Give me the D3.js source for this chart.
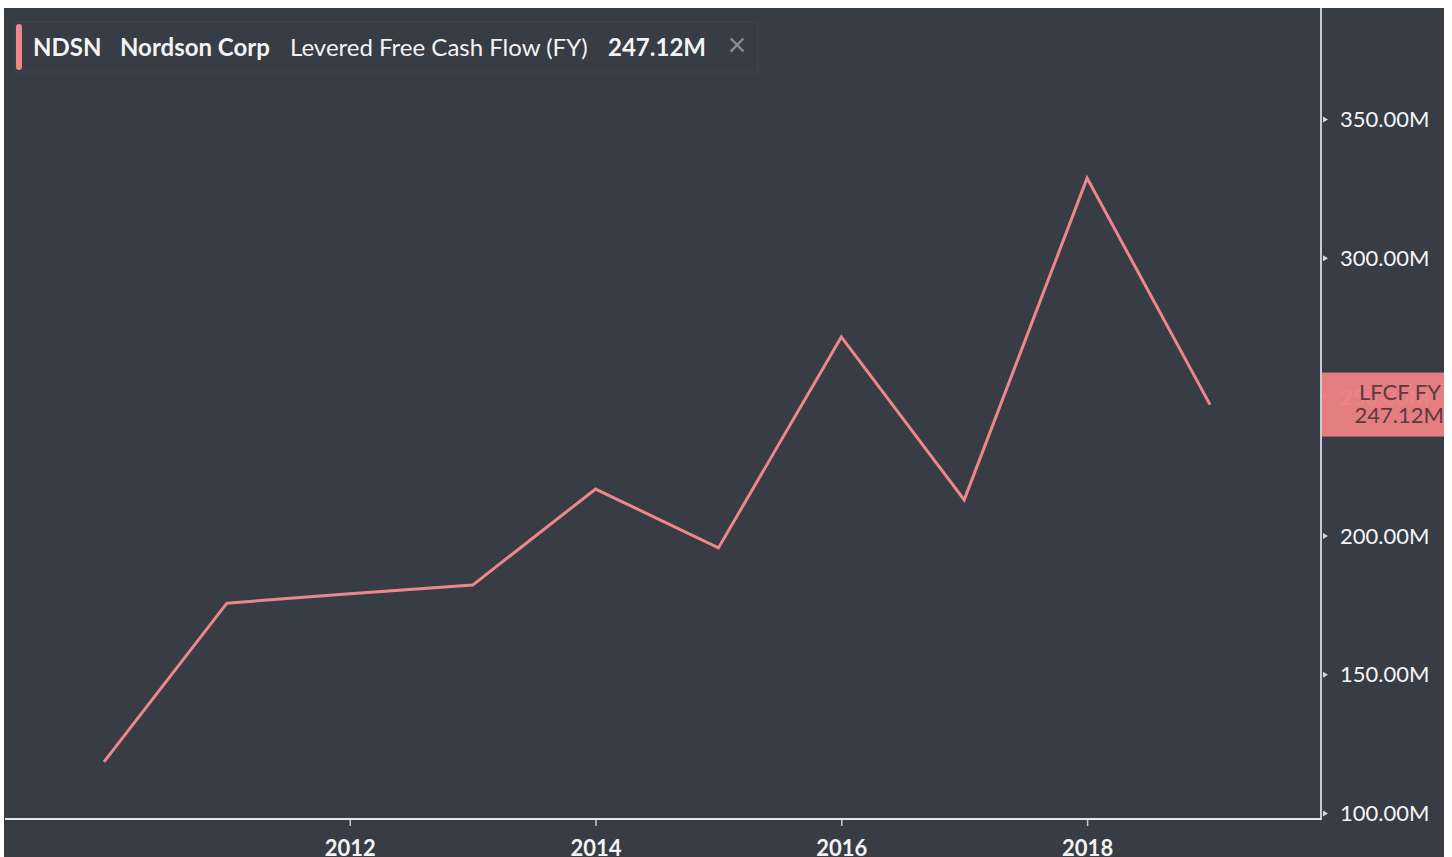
<!DOCTYPE html>
<html>
<head>
<meta charset="utf-8">
<script src="https://cdn.jsdelivr.net/npm/d3@7"></script>
<style>
  body { margin: 0; background: #fff; }
  text { font-family: Lato, "Open Sans", sans-serif; }
</style>
</head>
<body>
<svg id="chart" width="1452" height="857"></svg>
<script>
// data
var years = [2010, 2011, 2012, 2013, 2014, 2015, 2016, 2017, 2018, 2019];
var lfcf = [118.4, 175.6, 179.0, 182.1, 216.7, 195.5, 271.5, 212.8, 328.7, 247.12];
var yTicks = [100, 150, 200, 250, 300, 350];
var xTicks = [2012, 2014, 2016, 2018];
var legendParts = ["NDSN", "Nordson Corp", "Levered Free Cash Flow (FY)", "247.12M"];

var svg = d3.select("#chart");
var lineColor = "#ee878a";

//Panel background
svg.append("rect").attr("x", 4).attr("y", 8).attr("width", 1440).attr("height", 849)
    .attr("fill", "#383c45");

var xScale = d3.scaleLinear().domain([2010, 2019]).range([104, 1210]);
var yScale = d3.scaleLinear().domain([100, 350]).range([813, 119]);

var axisX = 1321, axisY = 819;

//Y axis on the right
var yAxis = d3.axisRight(yScale).tickValues(yTicks).tickSize(0).tickPadding(19)
    .tickFormat(function(d) { return d3.format(".2f")(d) + "M"; });
var gy = svg.append("g").attr("transform", "translate(" + axisX + ",0)").call(yAxis);
gy.select(".domain").remove();
gy.selectAll("text").attr("fill", "#f4f5f8").style("font-size", "22px")
    .attr("dy", "0.35em");
gy.selectAll(".tick").append("path").attr("d", "M2,-3L7,0L2,3Z").attr("fill", "#d8d8d8");
svg.append("line").attr("x1", axisX).attr("x2", axisX).attr("y1", 8).attr("y2", axisY + 1)
    .attr("stroke", "#c9cbd0").attr("stroke-width", 2);

//X axis
var xAxis = d3.axisBottom(xScale).tickValues(xTicks).tickSize(7).tickPadding(14)
    .tickFormat(d3.format("d"));
var gx = svg.append("g").attr("transform", "translate(0," + axisY + ")").call(xAxis);
gx.select(".domain").remove();
gx.selectAll("line").attr("stroke", "#c9cbd0").attr("stroke-width", 1.5);
gx.selectAll("text").attr("fill", "#f2f3f5").style("font-size", "22px")
    .style("font-weight", "bold");
svg.append("line").attr("x1", 5).attr("x2", axisX).attr("y1", axisY).attr("y2", axisY)
    .attr("stroke", "#e6e7ea").attr("stroke-width", 2);

//Series line
var line = d3.line()
    .x(function(d, i) { return xScale(years[i]); })
    .y(function(d) { return yScale(d); });
svg.append("path").datum(lfcf).attr("d", line)
    .attr("fill", "none").attr("stroke", lineColor).attr("stroke-width", 3)
    .attr("stroke-linejoin", "miter");

//Last value label on the axis
var lastY = yScale(lfcf[lfcf.length - 1]);
var lab = svg.append("g");
lab.append("rect").attr("x", axisX + 1).attr("y", lastY - 32).attr("width", 1444 - axisX - 1)
    .attr("height", 64).attr("fill", "#ea8083").attr("opacity", 0.97);
lab.append("text").attr("x", 1441).attr("y", lastY - 5).attr("text-anchor", "end")
    .attr("fill", "#5d3a40").style("font-size", "22px").text("LFCF FY");
lab.append("text").attr("x", 1444).attr("y", lastY + 18).attr("text-anchor", "end")
    .attr("fill", "#5d3a40").style("font-size", "22px").text("247.12M");

//Legend box
var leg = svg.append("g");
leg.append("rect").attr("x", 16).attr("y", 22).attr("width", 742).attr("height", 50)
    .attr("fill", "#383c45").attr("stroke", "#41454e").attr("stroke-width", 1);
leg.append("rect").attr("x", 16).attr("y", 24).attr("width", 6).attr("height", 46)
    .attr("rx", 3).attr("fill", lineColor);

var legX = [33, 120, 290, 608];
var legWeight = ["bold", "bold", "normal", "bold"];
legendParts.forEach(function(t, i) {
    leg.append("text").attr("x", legX[i]).attr("y", 56)
        .attr("fill", "#f2f3f5").style("font-size", "24px")
        .style("font-weight", legWeight[i]).text(t);
});
leg.append("text").attr("x", 737).attr("y", 56).attr("text-anchor", "middle")
    .attr("fill", "#8b8e95").style("font-size", "32px").text("\u00d7");
</script>
</body>
</html>
